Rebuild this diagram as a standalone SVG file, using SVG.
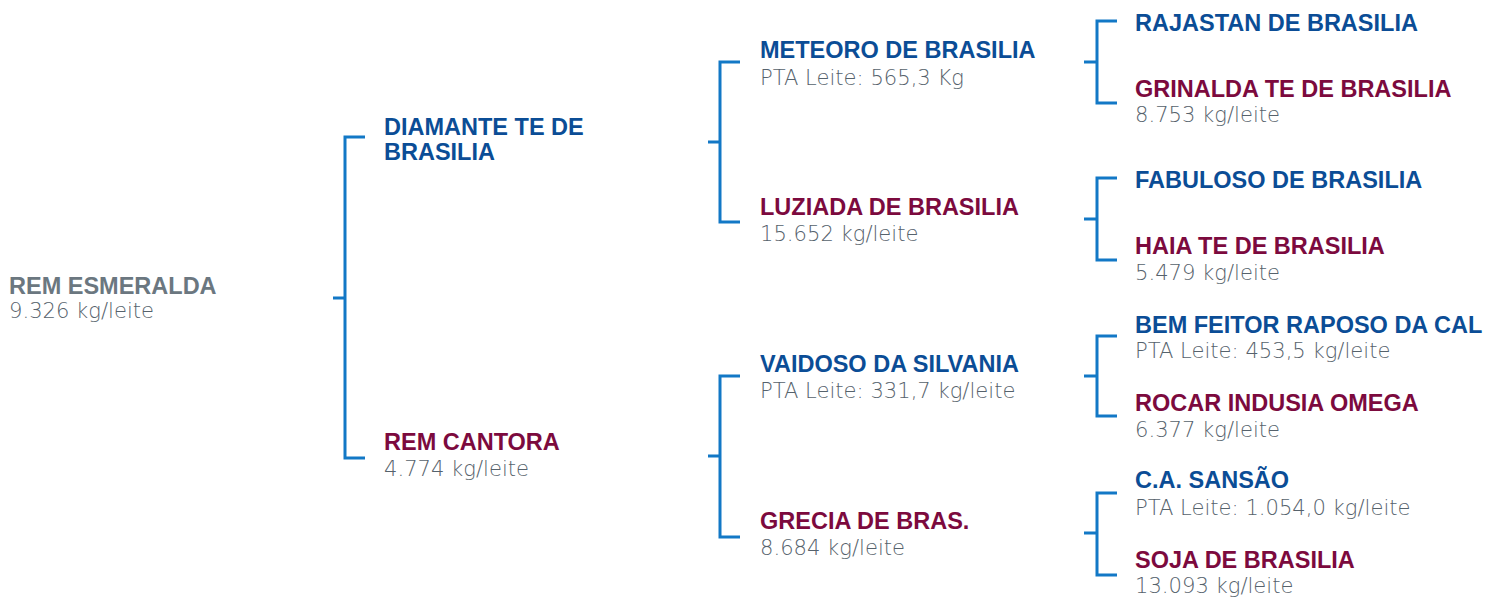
<svg xmlns="http://www.w3.org/2000/svg" width="1485" height="597" viewBox="0 0 1485 597">
<style>
.n{font-family:"Liberation Sans",Arial,sans-serif;font-weight:bold;font-size:23.5px}
.b{fill:#0b4d96}
.m{fill:#7c0a3e}
.g{fill:#6b7780}
.s{font-family:"DejaVu Sans",sans-serif;font-weight:200;font-size:21.1px;fill:#56626c}
.c{fill:none;stroke:#1278c6;stroke-width:3}
</style>
<rect width="1485" height="597" fill="#ffffff"/>
<g id="connectors">
<path class="c" d="M333,298H345M365,137H345V458H365"/>
<path class="c" d="M708,142H720M740,62H720V222H740"/>
<path class="c" d="M708,456H720M740,376H720V537H740"/>
<path class="c" d="M1084,62H1097M1117,21H1097V103H1117"/>
<path class="c" d="M1084,219H1097M1117,178H1097V260H1117"/>
<path class="c" d="M1084,376H1097M1117,336H1097V416H1117"/>
<path class="c" d="M1084,533H1097M1117,493H1097V575H1117"/>
</g>
<g id="rem-esmeralda"><text class="n g" x="9" y="294">REM ESMERALDA</text><text class="s" x="9" y="318">9.326 kg/leite</text></g>
<g id="diamante"><text class="n b" x="384" y="135">DIAMANTE TE DE</text><text class="n b" x="384" y="160">BRASILIA</text></g>
<g id="rem-cantora"><text class="n m" x="384" y="450">REM CANTORA</text><text class="s" x="384" y="476">4.774 kg/leite</text></g>
<g id="meteoro"><text class="n b" x="760" y="58">METEORO DE BRASILIA</text><text class="s" x="760" y="85">PTA Leite: 565,3 Kg</text></g>
<g id="luziada"><text class="n m" x="760" y="215">LUZIADA DE BRASILIA</text><text class="s" x="760" y="241">15.652 kg/leite</text></g>
<g id="vaidoso"><text class="n b" x="760" y="372">VAIDOSO DA SILVANIA</text><text class="s" x="760" y="398">PTA Leite: 331,7 kg/leite</text></g>
<g id="grecia"><text class="n m" x="760" y="529">GRECIA DE BRAS.</text><text class="s" x="760" y="555">8.684 kg/leite</text></g>
<g id="rajastan"><text class="n b" x="1135" y="31">RAJASTAN DE BRASILIA</text></g>
<g id="grinalda"><text class="n m" x="1135" y="97">GRINALDA TE DE BRASILIA</text><text class="s" x="1135" y="122">8.753 kg/leite</text></g>
<g id="fabuloso"><text class="n b" x="1135" y="188">FABULOSO DE BRASILIA</text></g>
<g id="haia"><text class="n m" x="1135" y="254">HAIA TE DE BRASILIA</text><text class="s" x="1135" y="280">5.479 kg/leite</text></g>
<g id="bem-feitor"><text class="n b" x="1135" y="333">BEM FEITOR RAPOSO DA CAL</text><text class="s" x="1135" y="358">PTA Leite: 453,5 kg/leite</text></g>
<g id="rocar"><text class="n m" x="1135" y="411">ROCAR INDUSIA OMEGA</text><text class="s" x="1135" y="437">6.377 kg/leite</text></g>
<g id="sansao"><text class="n b" x="1135" y="488">C.A. SANSÃO</text><text class="s" x="1135" y="515">PTA Leite: 1.054,0 kg/leite</text></g>
<g id="soja"><text class="n m" x="1135" y="568">SOJA DE BRASILIA</text><text class="s" x="1135" y="593">13.093 kg/leite</text></g>
</svg>
